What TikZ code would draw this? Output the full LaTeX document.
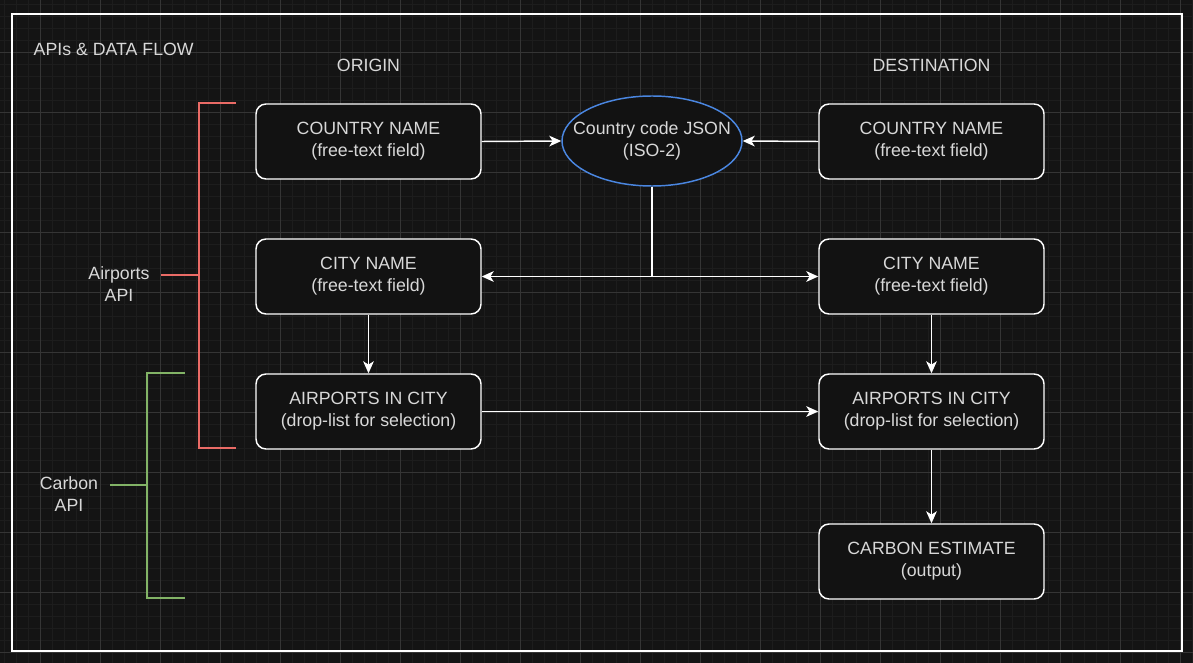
\documentclass[tikz,border=0pt]{standalone}
\usepackage{fontspec}
\setmainfont{Liberation Sans}
\usetikzlibrary{arrows.meta, positioning, shapes.geometric}
\definecolor{cbg}{HTML}{141414}
\definecolor{cfill}{HTML}{121212}
\definecolor{cminor}{HTML}{1D1D1D}
\definecolor{cmajor}{HTML}{353535}
\definecolor{ctext}{HTML}{D8D8D8}
\definecolor{cred}{HTML}{EA6B66}
\definecolor{cgreen}{HTML}{82B366}
\definecolor{cblue}{HTML}{4A86E0}
\tikzset{
  every picture/.style={font=\fontsize{13.3}{16.5}\selectfont},
  box/.style={draw=white, fill=cfill, rounded corners=7.5pt, align=center, text=ctext, minimum width=168.75pt, minimum height=56.25pt, line width=1.1pt},
  bubble/.style={ellipse, draw=cblue, fill=cfill, line width=1.1pt, minimum width=135pt, minimum height=67.5pt, inner sep=0pt},
  arrow/.style={-{Stealth[length=9pt, width=8pt, inset=2.5pt]}, draw=white, line width=1.1pt},
  brace/.style={draw=#1, line width=2.2pt},
  brace/.default=cred,
  note/.style={text=ctext, align=center},
}

\begin{document}
\begin{tikzpicture}[x=0.75pt, y=-0.75pt]
  % canvas and grid
  \fill[cbg] (0,0) rectangle (1193,663);
  \useasboundingbox (0,0) rectangle (1193,663);
  \foreach \x in {4,16,...,1192} \draw[cminor, line width=0.6pt] (\x,0) -- (\x,663);
  \foreach \y in {4,16,...,662} \draw[cminor, line width=0.6pt] (0,\y) -- (1193,\y);
  \foreach \x in {40,100,...,1180} \draw[cmajor, line width=0.6pt] (\x,0) -- (\x,663);
  \foreach \y in {52,112,...,652} \draw[cmajor, line width=0.6pt] (0,\y) -- (1193,\y);
  \draw[white, line width=1.5pt] (12,14) rectangle (1182,651);

  \node[note, anchor=west] (title) at (29,49) {APIs \& DATA FLOW};
  \node[note] (origin) at (368.5,65) {ORIGIN};
  \node[note] (dest) at (931.5,65) {DESTINATION};

  % origin column
  \node[box] (oCountry) at (368.5,141.5) {COUNTRY NAME\\(free-text field)};
  \node[box] (oCity) at (368.5,276.5) {CITY NAME\\(free-text field)};
  \node[box] (oAir) at (368.5,411.5) {AIRPORTS IN CITY\\(drop-list for selection)};

  % destination column
  \node[box] (dCountry) at (931.5,141.5) {COUNTRY NAME\\(free-text field)};
  \node[box] (dCity) at (931.5,276.5) {CITY NAME\\(free-text field)};
  \node[box] (dAir) at (931.5,411.5) {AIRPORTS IN CITY\\(drop-list for selection)};
  \node[box] (est) at (931.5,561.5) {CARBON ESTIMATE\\(output)};

  \node[bubble] (cc) at (652,141) {};
  \node[note] (ccText) at (cc) {Country code JSON\\(ISO-2)};

  \draw[arrow] (oCountry.east) -- (cc.west);
  \draw[arrow] (dCountry.west) -- (cc.east);
  \draw[arrow] (cc.south) |- (oCity.east);
  \draw[arrow] (cc.south) |- (dCity.west);
  \draw[arrow] (oCity.south) -- (oAir.north);
  \draw[arrow] (dCity.south) -- (dAir.north);
  \draw[arrow] (oAir.east) -- (dAir.west);
  \draw[arrow] (dAir.south) -- (est.north);

  % API brackets
  \draw[brace=cred] (236,103) -- (199,103) -- (199,448) -- (236,448);
  \draw[brace=cred] (161,275) -- (199,275);
  \node[note] (airApi) at (119,284) {Airports\\API};
  \draw[brace=cgreen] (185,373) -- (147,373) -- (147,598) -- (185,598);
  \draw[brace=cgreen] (110,485) -- (147,485);
  \node[note] (carbonApi) at (69,494) {Carbon\\API};
\end{tikzpicture}
\end{document}
